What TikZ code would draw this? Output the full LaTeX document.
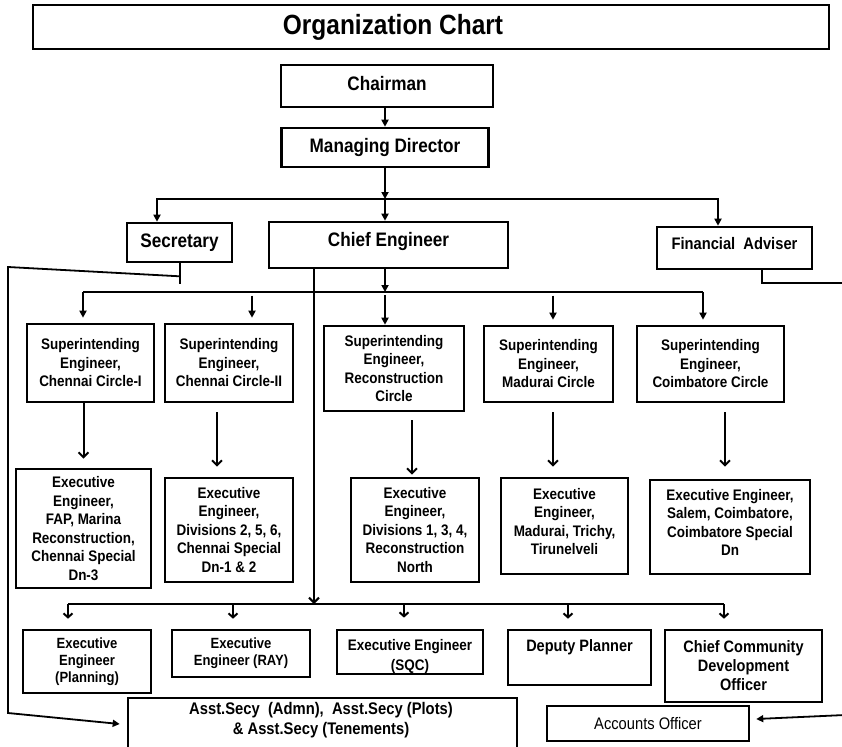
\documentclass[tikz,border=0pt]{standalone}
\usepackage{fontspec}
\setmainfont{Liberation Sans}[FakeStretch=0.88]
\usetikzlibrary{arrows.meta}
\newcommand{\fTitle}{\fontsize{27.8}{32}\selectfont\bfseries}
\newcommand{\fHead}{\fontsize{19.5}{22}\selectfont\bfseries}
\newcommand{\fFA}{\fontsize{16.7}{19}\selectfont\bfseries}
\newcommand{\fSE}{\fontsize{15.3}{18.5}\selectfont\bfseries}
\newcommand{\fBot}{\fontsize{14.8}{17}\selectfont\bfseries}
\newcommand{\fBotB}{\fontsize{16.5}{19}\selectfont\bfseries}
\newcommand{\fAsst}{\fontsize{16.8}{20}\selectfont\bfseries}
\newcommand{\fAcc}{\fontsize{16.7}{18}\selectfont}
\begin{document}
\begin{tikzpicture}[x=1pt,y=-1pt,
  box/.style={draw, line width=2.6pt, align=center, inner sep=0pt},
  txt/.style={inner sep=0pt, align=center},
  conn/.style={line width=2pt},
  thinconn/.style={line width=1.8pt},
  arr/.style={-{Triangle[length=7pt,width=7pt]}},
  arrB/.style={-{Straight Barb[length=5pt,width=10pt,line width=2pt]}},
  barb/.style={-{Straight Barb[length=4pt,width=9pt,line width=2pt]}}]
\fill[white] (0,0) rectangle (842,746);
\useasboundingbox (0,0) rectangle (842,746);

% top
\node[box, minimum width=796, minimum height=44] (title) at (431,27) {};
\node[txt, font=\fTitle] (titletext) at (393,27) {Organization Chart};
\node[box, minimum width=212, minimum height=42, font=\fHead, text depth=6pt] (chair) at (387,86) {Chairman};
\node[box, minimum width=207, minimum height=39, font=\fHead] (md) at (385,147.5) {Managing Director};
\node[box, minimum width=105, minimum height=39, font=\fHead] (sec) at (179.5,242.5) {Secretary};
\node[box, minimum width=239, minimum height=46, font=\fHead, text depth=11pt] (ce) at (388.5,245) {Chief Engineer};
\node[box, minimum width=155, minimum height=42, font=\fFA, text depth=9pt] (fa) at (734.5,248) {Financial\ \ Adviser};

% superintending engineers
\node[box, minimum width=127, minimum height=78, font=\fSE] (se1) at (90.5,363) {Superintending\\Engineer,\\Chennai Circle-I};
\node[box, minimum width=128, minimum height=78, font=\fSE] (se2) at (229,363) {Superintending\\Engineer,\\Chennai Circle-II};
\node[box, minimum width=140, minimum height=85, font=\fSE] (se3) at (394,368.5) {Superintending\\Engineer,\\Reconstruction\\Circle};
\node[box, minimum width=129, minimum height=76, font=\fSE] (se4) at (548.5,364) {Superintending\\Engineer,\\Madurai Circle};
\node[box, minimum width=147, minimum height=76, font=\fSE] (se5) at (710.5,364) {Superintending\\Engineer,\\Coimbatore Circle};

% executive engineers
\node[box, minimum width=135, minimum height=119, font=\fSE] (ee1) at (83.5,528.5) {Executive\\Engineer,\\FAP, Marina\\Reconstruction,\\Chennai Special\\Dn-3};
\node[box, minimum width=128, minimum height=104, font=\fSE] (ee2) at (229,530) {Executive\\Engineer,\\Divisions 2, 5, 6,\\Chennai Special\\Dn-1 \& 2};
\node[box, minimum width=128, minimum height=104, font=\fSE] (ee3) at (415,530) {Executive\\Engineer,\\Divisions 1, 3, 4,\\Reconstruction\\North};
\node[box, minimum width=127, minimum height=96, font=\fSE, text depth=9pt] (ee4) at (564.5,526) {Executive\\Engineer,\\Madurai, Trichy,\\Tirunelveli};
\node[box, minimum width=160, minimum height=94, font=\fSE, text depth=9pt] (ee5) at (730,527) {Executive Engineer,\\Salem, Coimbatore,\\Coimbatore Special\\Dn};

% bottom row
\node[box, minimum width=128, minimum height=63, font=\fBot] (bp) at (87,661.5) {Executive\\Engineer\\(Planning)};
\node[box, minimum width=138, minimum height=47, font=\fBot] (br) at (241,653.5) {Executive\\Engineer (RAY)};
\node[box, minimum width=146, minimum height=42, font=\fSE] (bs) at (410,652) {\rule{0pt}{21pt}Executive Engineer\\[1.5pt](SQC)};
\node[box, minimum width=143, minimum height=55, font=\fBotB] (bd) at (579.5,657.5) {Deputy Planner\\\strut};
\node[box, minimum width=157, minimum height=72, font=\fBotB] (bc) at (743.5,666) {Chief Community\\Development\\Officer};
\node[box, minimum width=389, minimum height=64] (asst) at (322.5,730) {};
\node[txt, font=\fAsst] (assttext) at (321,720) {Asst.Secy\ \ (Admn),\ \ Asst.Secy (Plots)\\\& Asst.Secy (Tenements)};
\node[box, minimum width=202, minimum height=35, font=\fAcc] (acc) at (648,723.5) {Accounts Officer};

% coordinates
\coordinate (j1) at (385,199);
\coordinate (j2) at (385,292);
\coordinate (j3) at (314,604);
\coordinate (secin) at ([xshift=-22.5]sec.north);
\coordinate (fain) at ([xshift=-16.5]fa.north);
\coordinate (secb) at ([yshift=-21]sec.south);
\coordinate (secm) at ([yshift=-13]sec.south);
\coordinate (lt) at (8,267);
\coordinate (lb) at (8,713);
\coordinate (faout) at (845,283);
\coordinate (accfrom) at (845,715);
\coordinate (se1in) at ([xshift=-7.5]se1.north);
\coordinate (se2in) at ([xshift=23]se2.north);
\coordinate (se4in) at ([xshift=4.5]se4.north);
\coordinate (se5in) at ([xshift=-7.5]se5.north);
\coordinate (e1in) at (ee1.north);
\coordinate (e2in) at ([xshift=-12]ee2.north);
\coordinate (e3in) at ([xshift=-3]ee3.north);
\coordinate (e4in) at ([xshift=-11.5]ee4.north);
\coordinate (e5in) at ([xshift=-5]ee5.north);
\coordinate (bpin) at ([xshift=-19]bp.north);
\coordinate (brin) at ([xshift=-8]br.north);
\coordinate (bsin) at ([xshift=-6]bs.north);
\coordinate (bdin) at ([xshift=-11.5]bd.north);
\coordinate (bcin) at ([xshift=-19.5]bc.north);

% top connectors
\draw[conn,arr] (chair.south -| md.north) -- (md.north);
\draw[conn] (secin |- j1) -- (fain |- j1);
\draw[conn,arr] (md.south) -- (j1);
\draw[conn,arr] (j1) -- (ce.north -| j1);
\draw[conn,arr] (j1) -| (secin);
\draw[conn,arr] (j1) -| (fain);

% secretary and financial adviser lines
\draw[conn] (sec.south) -- (secb);
\draw[thinconn,arr] (secm) -- (lt) -- (lb) -- ([shift={(-7,-6)}]asst.west);
\draw[conn] ([xshift=27.5]fa.south) |- (faout);
\draw[thinconn,arr] (accfrom) -- ([shift={(6,-4.5)}]acc.east);

% chief engineer to superintending engineers
\draw[conn,arr] (ce.south -| j2) -- (j2);
\draw[conn] (se1in |- j2) -- (se5in |- j2);
\draw[conn,arr,shorten <=3] (j2) -- (se3.north -| j2);
\draw[conn,arr,shorten >=5] (se1in |- j2) -- (se1in);
\draw[conn,arr,shorten >=5] (se5in |- j2) -- (se5in);
\draw[conn,arr,shorten >=5] ([yshift=27]se2in) -- (se2in);
\draw[conn,arr,shorten >=5] ([yshift=29]se4in) -- (se4in);

% superintending to executive
\draw[conn,arrB,shorten >=9] (e1in |- se1.south) -- (e1in);
\draw[conn,arrB,shorten <=9,shorten >=10] (e2in |- se2.south) -- (e2in);
\draw[conn,arrB,shorten <=8,shorten >=2] (e3in |- se3.south) -- (e3in);
\draw[conn,arrB,shorten <=9,shorten >=10] (e4in |- se4.south) -- (e4in);
\draw[conn,arrB,shorten <=9,shorten >=12] (e5in |- se5.south) -- (e5in);

% chief engineer to bottom row
\draw[conn,arrB] (ce.south -| j3) -- (j3);
\draw[conn] (bpin |- j3) -- (bcin |- j3);
\draw[conn,barb,shorten >=10] (bpin |- j3) -- (bpin);
\draw[conn,barb,shorten >=10] (brin |- j3) -- (brin);
\draw[conn,barb,shorten >=11] (bsin |- j3) -- (bsin);
\draw[conn,barb,shorten >=10] (bdin |- j3) -- (bdin);
\draw[conn,barb,shorten >=10] (bcin |- j3) -- (bcin);
\end{tikzpicture}
\end{document}
